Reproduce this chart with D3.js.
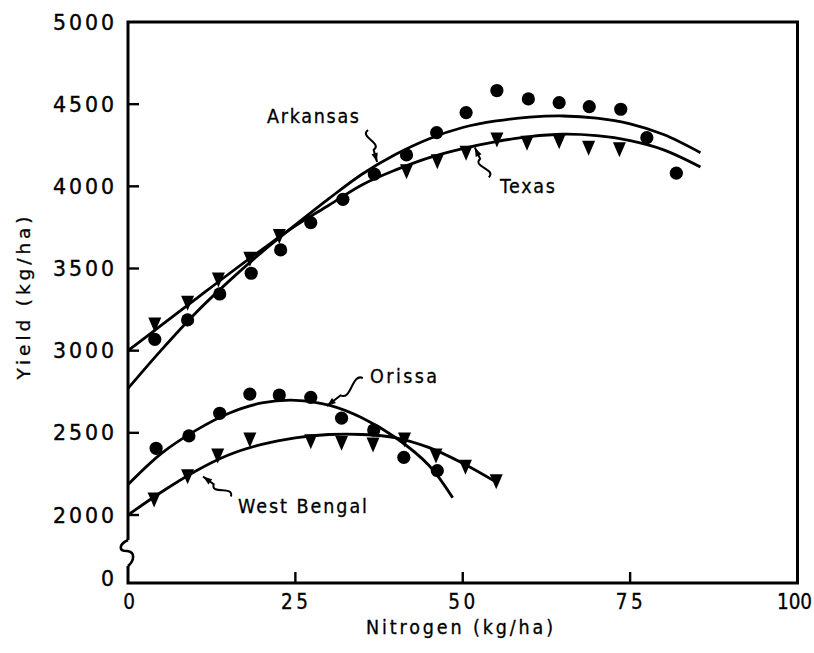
<!DOCTYPE html>
<html><head><meta charset="utf-8">
<script src="https://cdn.jsdelivr.net/npm/d3@7"></script>
<style>body{margin:0;background:#fff}svg{display:block}</style>
</head><body>
<svg id="chart" width="814" height="653"></svg>
<script>
// ---- data ----
const arkansasN      = [4.0, 8.9, 13.7, 18.4, 22.8, 27.3, 32.1, 36.8, 41.6, 46.1, 50.5, 55.1, 59.8, 64.4, 68.9, 73.6, 77.5, 81.9];
const arkansasYield  = [3069, 3187, 3345, 3471, 3613, 3779, 3921, 4074, 4191, 4327, 4449, 4583, 4532, 4509, 4485, 4469, 4296, 4080];
const texasN         = [4.0, 8.9, 13.5, 18.2, 22.6, 41.6, 46.2, 50.5, 55.1, 59.6, 64.4, 68.8, 73.4];
const texasYield     = [3156, 3288, 3430, 3556, 3694, 4089, 4150, 4201, 4282, 4262, 4272, 4232, 4222];
const orissaN        = [4.2, 9.1, 13.7, 18.2, 22.6, 27.3, 31.9, 36.7, 41.2, 46.2];
const orissaYield    = [2406, 2481, 2619, 2736, 2730, 2716, 2589, 2517, 2351, 2270];
const bengalN        = [3.9, 8.9, 13.4, 18.2, 27.3, 31.9, 36.6, 41.3, 46.0, 50.4, 55.0];
const bengalYield    = [2091, 2233, 2359, 2456, 2446, 2436, 2426, 2456, 2359, 2290, 2203];

// fitted response curves
const arkansasCurveN     = [0, 5, 10, 15, 20, 25, 30, 35, 40, 45, 50, 55, 60, 65, 70, 75, 80, 85.5];
const arkansasCurveYield = [2770, 3005, 3225, 3420, 3600, 3765, 3925, 4075, 4195, 4290, 4358, 4398, 4421, 4428, 4415, 4380, 4315, 4205];
const texasCurveN        = [0, 5, 10, 15, 20, 25, 30, 35, 40, 45, 50, 55, 60, 65, 70, 75, 80, 85.5];
const texasCurveYield    = [3000, 3155, 3310, 3465, 3615, 3760, 3885, 4010, 4100, 4175, 4230, 4272, 4303, 4317, 4308, 4278, 4222, 4118];
const orissaCurveN       = [0, 5, 10, 15, 20, 25, 30, 35, 40, 45, 48.5];
const orissaCurveYield   = [2185, 2375, 2512, 2618, 2682, 2698, 2668, 2590, 2470, 2300, 2105];
const bengalCurveN       = [0, 5, 10, 15, 20, 25, 30, 35, 40, 45, 50, 55];
const bengalCurveYield   = [2000, 2140, 2265, 2365, 2430, 2470, 2490, 2490, 2470, 2410, 2315, 2200];

const xTicks = [0, 25, 50, 75, 100];
const yTicks = [0, 2000, 2500, 3000, 3500, 4000, 4500, 5000];
const xTitle = "Nitrogen (kg/ha)";
const yTitle = "Yield (kg/ha)";

// curve labels with the point each leader arrow touches (data units)
const labelNames  = ["Arkansas", "Texas", "Orissa", "West Bengal"];
const labelN      = [20.76, 55.56, 36.15, 16.43];
const labelYield  = [4386, 3960, 2803, 2012];
const arrowN      = [37.2, 51.8, 29.7, 11.2];
const arrowYield  = [4148, 4237, 2663, 2234];

// ---- layout / style ----
const svg = d3.select("#chart");
const x = d3.scaleLinear().domain([0, 100]).range([128, 797.5]);
const y = d3.scaleLinear().domain([0, 2000, 5000]).range([583, 515, 22]);
const ink = "#000";
const fontRound = "'DejaVu Sans', Verdana, sans-serif";
const fontCond = "'DejaVu Sans Condensed', 'DejaVu Sans', sans-serif";

// frame with axis break
const x0 = x(0), x1 = x(100), yTop = y(5000), yBot = y(0);
const breakTop = 540, breakBot = 566;
svg.append("path")
  .attr("d", `M${x0},${breakTop} L${x0},${yTop} L${x1},${yTop} L${x1},${yBot} L${x0},${yBot} L${x0},${breakBot}`)
  .attr("fill", "none").attr("stroke", ink).attr("stroke-width", 3).attr("stroke-linejoin", "miter");
svg.append("path")
  .attr("d", `M${x0},${breakTop} C${x0-10},${breakTop+5} ${x0-9},${breakTop+11} ${x0-1},${breakTop+11} C${x0+8},${breakTop+12} ${x0+6},${breakTop+21} ${x0},${breakBot}`)
  .attr("fill", "none").attr("stroke", ink).attr("stroke-width", 2.6);

// y ticks (inward)
svg.append("g").selectAll("line").data(yTicks.filter(d => d > 0 && d < 5000)).join("line")
  .attr("x1", x0).attr("x2", x0 + 11).attr("y1", d => y(d)).attr("y2", d => y(d))
  .attr("stroke", ink).attr("stroke-width", 2.4);
// x ticks (inward)
svg.append("g").selectAll("line").data(xTicks.filter(d => d > 0 && d < 100)).join("line")
  .attr("x1", d => x(d)).attr("x2", d => x(d)).attr("y1", yBot).attr("y2", yBot - 11)
  .attr("stroke", ink).attr("stroke-width", 2.4);

// y tick labels
svg.append("g").selectAll("text").data(yTicks).join("text")
  .attr("x", 114).attr("y", d => y(d) + (d === 0 ? 3 : 7.5))
  .attr("text-anchor", "end")
  .attr("font-family", fontRound).attr("font-size", 20.5).attr("fill", ink)
  .attr("stroke", ink).attr("stroke-width", 0.4)
  .each(function(d){ const s = String(d); if (s.length > 1) d3.select(this).attr("textLength", 61).attr("lengthAdjust", "spacing"); })
  .text(d => d);

// x tick labels
svg.append("g").selectAll("text").data(xTicks).join("text")
  .attr("x", d => x(d) + (d === 0 ? 1 : d === 100 ? -3 : -1)).attr("y", 609)
  .attr("text-anchor", "middle")
  .attr("font-family", fontCond).attr("font-size", 20.5).attr("fill", ink)
  .attr("stroke", ink).attr("stroke-width", 0.3)
  .each(function(d){ const s = String(d); if (s.length > 1) d3.select(this).attr("textLength", s.length === 3 ? 35 : 27).attr("lengthAdjust", "spacing"); })
  .text(d => d);

// axis titles
svg.append("text").attr("x", 459.5).attr("y", 634).attr("text-anchor", "middle")
  .attr("font-family", fontCond).attr("font-size", 19.5).attr("fill", ink)
  .attr("stroke", ink).attr("stroke-width", 0.3)
  .attr("textLength", 187).attr("lengthAdjust", "spacing").text(xTitle);
svg.append("text").attr("transform", "translate(30,298) rotate(-90)").attr("text-anchor", "middle")
  .attr("font-family", fontRound).attr("font-size", 18.5).attr("fill", ink)
  .attr("stroke", ink).attr("stroke-width", 0.3)
  .attr("textLength", 163).attr("lengthAdjust", "spacing").text(yTitle);

// curves
const line = d3.line().x(d => x(d[0])).y(d => y(d[1])).curve(d3.curveCatmullRom.alpha(0.5));
const curves = [
  d3.zip(arkansasCurveN, arkansasCurveYield),
  d3.zip(texasCurveN, texasCurveYield),
  d3.zip(orissaCurveN, orissaCurveYield),
  d3.zip(bengalCurveN, bengalCurveYield)
];
svg.append("g").selectAll("path").data(curves).join("path")
  .attr("d", line).attr("fill", "none").attr("stroke", ink).attr("stroke-width", 2.8);

// markers
const circles = d3.zip(arkansasN, arkansasYield).concat(d3.zip(orissaN, orissaYield));
const triangles = d3.zip(texasN, texasYield).concat(d3.zip(bengalN, bengalYield));
svg.append("g").selectAll("circle").data(circles).join("circle")
  .attr("cx", d => x(d[0])).attr("cy", d => y(d[1])).attr("r", 6.6).attr("fill", ink);
svg.append("g").selectAll("path").data(triangles).join("path")
  .attr("transform", d => `translate(${x(d[0])},${y(d[1])})`)
  .attr("d", "M-6.5,-7.5 L6.5,-7.5 L0,7.5 Z").attr("fill", ink);

// labels with squiggly leader arrows
function leader(tx, ty, ex, ey) {
  const dx = ex - tx, dy = ey - ty, L = Math.hypot(dx, dy);
  const ux = dx / L, uy = dy / L, nx = -uy, ny = ux;
  const mx = tx + ux * L * 0.38, my = ty + uy * L * 0.38;
  const a = 11, k = L * 0.12;
  return `M${tx},${ty} L${mx},${my} C${mx + ux*k + nx*a},${my + uy*k + ny*a} ${ex - ux*k - nx*a},${ey - uy*k - ny*a} ${ex},${ey}`;
}
function head(tx, ty, ex, ey) {
  const dx = ex - tx, dy = ey - ty, L = Math.hypot(dx, dy);
  const ux = dx / L, uy = dy / L, nx = -uy, ny = ux;
  const h = 9, w = 3.2;
  return `M${tx},${ty} L${tx + ux*h + nx*w},${ty + uy*h + ny*w} L${tx + ux*h - nx*w},${ty + uy*h - ny*w} Z`;
}
const leaderEnds = [[-9, -32], [14, 30], [36, -28], [28, 20]];
labelNames.forEach((name, i) => {
  const tx = x(arrowN[i]), ty = y(arrowYield[i]);
  const ex = tx + leaderEnds[i][0], ey = ty + leaderEnds[i][1];
  svg.append("path").attr("d", leader(tx, ty, ex, ey)).attr("fill", "none").attr("stroke", ink).attr("stroke-width", 2);
  svg.append("path").attr("d", head(tx, ty, ex, ey)).attr("fill", ink);
});
const labelWidths = [92, 55, 67, 129];
svg.append("g").selectAll("text").data(labelNames).join("text")
  .attr("x", (d, i) => x(labelN[i])).attr("y", (d, i) => y(labelYield[i]))
  .attr("font-family", fontCond).attr("font-size", 19.5).attr("fill", ink)
  .attr("stroke", ink).attr("stroke-width", 0.3)
  .attr("textLength", (d, i) => labelWidths[i]).attr("lengthAdjust", "spacing")
  .text(d => d);
</script>
</body></html>
